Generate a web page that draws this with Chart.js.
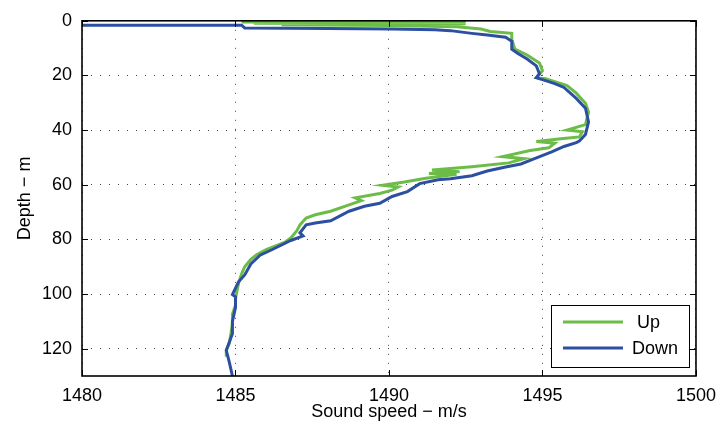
<!DOCTYPE html>
<html>
<head>
<meta charset="utf-8">
<script src="https://cdn.jsdelivr.net/npm/chart.js@4"></script>
<style>
  body { margin: 0; background: #fff; }
</style>
</head>
<body>
<canvas id="grafico" width="725" height="432"></canvas>
<script>
// datos del perfil (velocidad m/s, profundidad m)
const upSpeed = [1492.5, 1485.2, 1492.4, 1485.6, 1492.5, 1486.5, 1490.0, 1492.2, 1493.0, 1493.3, 1494.0, 1494.0,
  1494.1, 1494.5, 1494.9, 1495.0, 1494.8, 1495.1, 1495.8, 1496.1, 1496.4, 1496.5, 1496.4, 1495.8, 1496.3,
  1496.2, 1495.6, 1494.8, 1495.4, 1495.2, 1494.6, 1493.7, 1494.4, 1493.9, 1492.7, 1491.4, 1492.3, 1491.3,
  1492.2, 1491.2, 1490.5, 1489.8, 1490.3, 1490.1, 1489.7, 1488.9, 1489.1, 1488.7, 1488.1, 1487.6, 1487.3,
  1487.1, 1487.0, 1486.8, 1486.6, 1486.0, 1485.7, 1485.5, 1485.3, 1485.2, 1485.1, 1485.0, 1485.0, 1484.9,
  1484.9, 1484.85, 1484.8, 1484.7, 1484.7];
const upDepth = [0.3, 0.4, 0.7, 0.9, 1.1, 1.4, 1.7, 2.2, 3.0, 3.9, 4.6, 6.8,
  10.4, 12.5, 15.4, 18.3, 20.8, 21.2, 23.7, 26.5, 30.2, 33.4, 38.0, 40.0, 40.6,
  42.5, 43.2, 44.2, 44.8, 46.5, 47.5, 49.7, 50.5, 52.0, 53.4, 54.6, 55.2, 55.9,
  56.2, 57.6, 59.0, 60.2, 60.8, 62.0, 63.2, 64.8, 65.8, 67.4, 69.7, 71.0, 72.2,
  74.7, 76.8, 79.5, 81.1, 83.7, 85.5, 87.3, 90.0, 92.6, 96.0, 101.6, 104.0, 107.4,
  111.0, 114.5, 118.0, 120.6, 123.0];

const downSpeed = [1480.0, 1485.2, 1485.3, 1488.0, 1490.1, 1491.5, 1492.0, 1492.7, 1493.2, 1493.8, 1494.0, 1494.0,
  1494.2, 1494.5, 1494.8, 1494.9, 1494.8, 1495.1, 1495.4, 1495.7, 1496.1, 1496.4, 1496.5, 1496.4, 1496.2,
  1496.1, 1495.7, 1495.3, 1494.7, 1494.3, 1493.8, 1493.2, 1492.7, 1492.0, 1491.6, 1491.0, 1490.6, 1490.1,
  1489.7, 1489.2, 1488.7, 1488.1, 1487.6, 1487.3, 1487.1, 1487.2, 1486.8, 1486.2, 1485.8, 1485.5, 1485.3,
  1485.1, 1484.9, 1485.0, 1485.0, 1484.9, 1484.9, 1484.7, 1484.8, 1484.9];
const downDepth = [1.6, 1.6, 2.6, 2.8, 3.0, 3.3, 3.6, 4.6, 5.2, 6.0, 7.5, 10.4,
  12.0, 14.0, 16.5, 19.4, 20.8, 21.9, 23.0, 24.4, 28.4, 32.0, 37.0, 41.6, 44.0,
  44.6, 46.0, 48.0, 50.6, 52.4, 53.5, 55.0, 56.7, 57.8, 58.2, 59.6, 62.5, 64.3,
  66.8, 67.9, 69.7, 73.2, 74.0, 74.7, 77.6, 78.7, 80.4, 83.7, 85.8, 89.0, 93.0,
  95.5, 100.2, 101.0, 105.0, 110.0, 114.5, 120.6, 125.0, 130.0];

const seriesNames = ['Up', 'Down'];
const speedTicks = [1480, 1485, 1490, 1495, 1500];
const depthTicks = [0, 20, 40, 60, 80, 100, 120];

const verde = '#6bbd47';
const azul = '#2d4fa1';
const fuente = { family: "'Liberation Sans', Arial, sans-serif", size: 18 };

function puntos(xs, ys) {
  return xs.map((v, i) => ({ x: v, y: ys[i] }));
}

// marco y ticks hacia adentro (estilo matlab)
const marco = {
  id: 'marco',
  afterDatasetsDraw(chart) {
    const { ctx, chartArea: a, scales } = chart;
    ctx.save();
    ctx.strokeStyle = '#000';
    ctx.lineWidth = 1;
    ctx.beginPath();
    speedTicks.forEach(v => {
      const px = Math.round(scales.x.getPixelForValue(v)) + 0.5;
      ctx.moveTo(px, a.bottom); ctx.lineTo(px, a.bottom - 6);
      ctx.moveTo(px, a.top); ctx.lineTo(px, a.top + 6);
    });
    depthTicks.forEach(v => {
      const py = Math.round(scales.y.getPixelForValue(v)) + 0.5;
      ctx.moveTo(a.left, py); ctx.lineTo(a.left + 6, py);
      ctx.moveTo(a.right, py); ctx.lineTo(a.right - 6, py);
    });
    ctx.stroke();
    ctx.lineWidth = 1.6;
    ctx.strokeRect(a.left, a.top, a.right - a.left, a.bottom - a.top);
    ctx.restore();
  }
};

// leyenda dentro del area
const leyenda = {
  id: 'leyenda',
  afterDraw(chart) {
    const ctx = chart.ctx;
    const bx = 551, by = 305, bw = 138, bh = 62;
    ctx.save();
    ctx.fillStyle = '#fff';
    ctx.fillRect(bx, by, bw, bh);
    ctx.strokeStyle = '#000';
    ctx.lineWidth = 1;
    ctx.strokeRect(bx + 0.5, by + 0.5, bw, bh);
    const dsList = chart.data.datasets;
    [17, 43].forEach((dy, i) => {
      const ds = dsList[i];
      ctx.strokeStyle = ds.borderColor;
      ctx.lineWidth = 3;
      ctx.beginPath();
      ctx.moveTo(bx + 12, by + dy);
      ctx.lineTo(bx + 72, by + dy);
      ctx.stroke();
      ctx.fillStyle = '#000';
      ctx.font = "18px 'Liberation Sans', Arial, sans-serif";
      ctx.textBaseline = 'middle';
      ctx.fillText(ds.label, bx + (i === 0 ? 86 : 81), by + dy + 1);
    });
    ctx.restore();
  }
};

new Chart(document.getElementById('grafico'), {
  type: 'scatter',
  data: {
    datasets: [{
      label: seriesNames[0],
      data: puntos(upSpeed, upDepth),
      showLine: true,
      borderColor: verde,
      backgroundColor: verde,
      borderWidth: 3,
      pointRadius: 0,
      tension: 0,
      order: 2
    }, {
      label: seriesNames[1],
      data: puntos(downSpeed, downDepth),
      showLine: true,
      borderColor: azul,
      backgroundColor: azul,
      borderWidth: 3,
      pointRadius: 0,
      tension: 0,
      order: 1
    }]
  },
  options: {
    responsive: false,
    animation: false,
    layout: { padding: { top: 14, right: 26, left: 0, bottom: 0 } },
    plugins: { legend: { display: false }, tooltip: { enabled: false } },
    scales: {
      x: {
        type: 'linear',
        min: 1480, max: 1500,
        afterBuildTicks: s => { s.ticks = speedTicks.map(v => ({ value: v })); },
        ticks: { padding: 9, font: fuente, color: '#000', callback: v => String(v) },
        grid: { color: '#444', drawTicks: false },
        border: { display: false, dash: [1, 8] },
        title: { display: true, text: 'Sound speed − m/s', font: fuente, color: '#000', padding: { top: 0, bottom: 9 } },
        afterFit: s => { s.height = 56; }
      },
      y: {
        reverse: true,
        min: 0, max: 130,
        afterBuildTicks: s => { s.ticks = depthTicks.map(v => ({ value: v })); },
        ticks: { padding: 10, font: fuente, color: '#000', callback: v => String(v) },
        grid: { color: '#444', drawTicks: false },
        border: { display: false, dash: [1, 8] },
        title: { display: true, text: 'Depth − m', font: fuente, color: '#000', padding: { top: 14, bottom: 0 } },
        afterFit: s => { s.width = 82; }
      }
    }
  },
  plugins: [marco, leyenda]
});
</script>
</body>
</html>
